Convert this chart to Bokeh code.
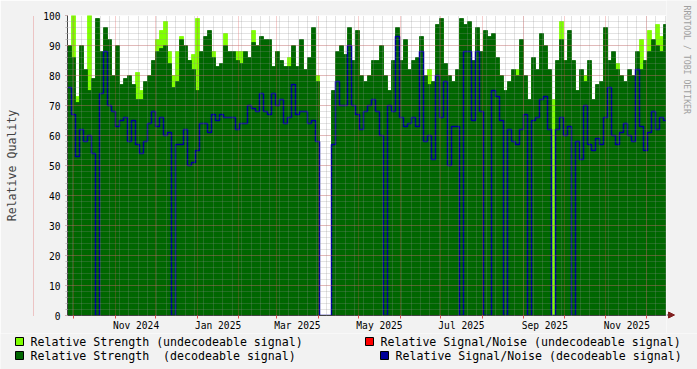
import math
from datetime import datetime, timedelta
import numpy as np
from bokeh.plotting import figure
from bokeh.layouts import column, row
from bokeh.models import (Range1d, FixedTicker, Grid, DatetimeTickFormatter,
                          ColumnDataSource, Arrow, NormalHead)
from bokeh.core.properties import value
from bokeh.embed import file_html
from bokeh.resources import INLINE

# ---------------- data (one value per ~3-day RRD step) ----------------
START = datetime(2024, 9, 26, 12)
END = datetime(2025, 12, 16, 0)
STEP_HOURS = 71.4

strength_dec = [
    90, 86, 71, 90, 82, 75, 79, 99, 88, 96,
    92, 80, 90, 77, 79, 80, 77, 72, 72, 78,
    80, 85, 88, 89, 90, 84, 76, 78, 92, 90,
    85, 82, 75, 88, 93, 95, 86, 83, 84, 90,
    88, 88, 85, 84, 88, 86, 91, 90, 93, 92,
    92, 83, 88, 85, 83, 83, 90, 83, 92, 82,
    86, 96, 78, None, None, None, 75, 88, 90, 87,
    96, 85, 95, 80, 78, 80, 85, 85, 90, 80,
    75, 85, 96, 85, 92, 82, 85, 86, 93, 80,
    77, 78, 97, 99, 84, 80, 78, 82, 99, 97,
    98, 85, 96, 88, 95, 93, 94, 86, 80, 75,
    78, 82, 80, 92, 80, 72, 86, 82, 94, 90,
    82, 0, 85, 92, 85, 95, 85, 75, 82, 78,
    85, 72, 77, 78, 96, 85, 88, 82, 80, 78,
    82, 80, 88, 82, 85, 88, 92, 90, 88, 97,
]
strength_undec = [
    88, 100, 73, 88, 80, 100, 77, 95, 85, 93,
    90, 78, 88, 75, 77, 78, 75, 81, 75, 76,
    78, 83, 92, 95, 98, 88, 80, 88, 93, 88,
    85, 87, 99, 86, 91, 93, 88, 81, 82, 94,
    86, 86, 88, 88, 86, 84, 95, 88, 91, 90,
    90, 81, 88, 83, 81, 86, 88, 81, 90, 80,
    84, 94, 80, None, None, None, 73, 86, 88, 85,
    94, 83, 88, 78, 76, 78, 83, 83, 88, 78,
    73, 83, 94, 83, 90, 80, 83, 84, 91, 78,
    82, 76, 95, 97, 82, 74, 76, 80, 97, 95,
    96, 83, 94, 86, 93, 91, 92, 84, 78, 73,
    76, 80, 82, 90, 78, 70, 84, 80, 92, 88,
    80, 72, 83, 98, 83, 88, 83, 72, 80, 80,
    83, 70, 75, 76, 94, 83, 86, 84, 77, 76,
    80, 78, 86, 92, 83, 95, 90, 97, 93, 95,
]
snr_dec = [
    76, 67, 53, 62, 58, 60, 54, 0, 74, 88,
    70, 68, 63, 65, 66, 58, 65, 57, 54, 58,
    64, 68, 63, 66, 60, 61, 0, 57, 57, 62,
    50, 51, 55, 64, 64, 61, 67, 65, 67, 66,
    66, 66, 62, 64, 64, 70, 69, 68, 74, 68,
    67, 74, 70, 72, 64, 66, 77, 67, 68, 68,
    64, 65, 58, 0, 0, 0, 57, 78, 70, 70,
    90, 70, 67, 62, 68, 70, 72, 68, 60, 0,
    70, 68, 93, 66, 63, 64, 66, 63, 88, 58,
    60, 52, 80, 66, 78, 50, 63, 63, 0, 88,
    88, 65, 88, 68, 0, 0, 75, 73, 65, 0,
    62, 58, 57, 62, 67, 0, 65, 66, 72, 73,
    62, 0, 62, 66, 60, 63, 0, 58, 52, 70,
    57, 55, 59, 57, 66, 76, 60, 57, 61, 64,
    60, 58, 82, 63, 55, 61, 68, 62, 66, 65,
]

x_tick_labels = ["Nov 2024", "Jan 2025", "Mar 2025", "May 2025",
                 "Jul 2025", "Sep 2025", "Nov 2025"]
legend_labels = ["Relative Strength (undecodeable signal)",
                 "Relative Strength \u00a0(decodeable signal)",
                 "Relative Signal/Noise (undecodeable signal)",
                 "Relative Signal/Noise (decodeable signal)"]
watermark = "RRDTOOL / TOBI OETIKER"

# ---------------- helpers ----------------
EPOCH = datetime(1970, 1, 1)


def ms(dt):
    return (dt - EPOCH).total_seconds() * 1000.0


def tofloat(a):
    return np.array([np.nan if v is None else float(v) for v in a])


def no_frame_align(fig):
    if "frame_align" in fig.properties():
        fig.frame_align = False


n = len(strength_dec)
step = timedelta(hours=STEP_HOURS)
t_left = np.array([ms(START + i * step) for i in range(n)])
t_right = np.array([ms(START + (i + 1) * step) for i in range(n)])

FONT = "DejaVu Sans Mono"
C_LIGHT = "#7FFF00"
C_DARK = "#006600"
C_RED = "#FF0000"
C_BLUE = "#000099"
BACK = "#F2F2F2"
ARROW = "#801F1F"

W_MAIN, H_MAIN = 666, 333
W_SIDE = 31
H_LEG = 36

p = figure(width=W_MAIN, height=H_MAIN, output_backend="svg", toolbar_location=None,
           x_axis_type="datetime",
           x_range=Range1d(ms(START), ms(END)), y_range=Range1d(0, 100),
           min_border_left=67, min_border_right=0, min_border_top=15,
           min_border_bottom=18)
no_frame_align(p)
p.background_fill_color = "white"
p.border_fill_color = BACK
p.outline_line_color = None
p.grid.visible = False

src_u = ColumnDataSource(dict(l=t_left, r=t_right, t=tofloat(strength_undec)))
src_d = ColumnDataSource(dict(l=t_left, r=t_right, t=tofloat(strength_dec)))
p.quad(left="l", right="r", bottom=0, top="t", source=src_u,
       fill_color=C_LIGHT, line_color=C_LIGHT, line_width=0.8)
p.quad(left="l", right="r", bottom=0, top="t", source=src_d,
       fill_color=C_DARK, line_color=C_DARK, line_width=0.8)

sx = list(t_left) + [t_right[-1]]
sy = list(snr_dec) + [snr_dec[-1]]
p.step(x=sx, y=sy, mode="after", line_color=C_BLUE, line_width=1.5)

# ---------------- grids ----------------
month_starts = []
y, m = 2024, 9
while True:
    d = datetime(y, m, 1)
    if d > END:
        break
    month_starts.append(ms(d))
    m += 1
    if m > 12:
        m, y = 1, y + 1
weeks = []
d = datetime(2024, 9, 30)
while d < END:
    weeks.append(ms(d))
    d += timedelta(days=7)

label_pos = []
for lab in x_tick_labels:
    dt = datetime.strptime(lab, "%b %Y")
    label_pos.append(ms(datetime(dt.year, dt.month, 16, 12)))

MGRID = "#DE4F4F"
GRID = "#8F8F8F"
xg = Grid(dimension=0, ticker=FixedTicker(ticks=month_starts, minor_ticks=weeks),
          grid_line_color=MGRID, grid_line_alpha=0.55, grid_line_dash="1 1",
          minor_grid_line_color=GRID, minor_grid_line_alpha=0.5,
          minor_grid_line_dash="1 1", level="guide")
yg = Grid(dimension=1, ticker=FixedTicker(ticks=list(range(0, 101, 10)),
                                          minor_ticks=list(range(0, 101, 2))),
          grid_line_color=MGRID, grid_line_alpha=0.55, grid_line_dash="1 1",
          minor_grid_line_color=GRID, minor_grid_line_alpha=0.5,
          minor_grid_line_dash="1 1", level="guide")
p.add_layout(xg)
p.add_layout(yg)

# ---------------- axes ----------------
xa = p.xaxis[0]
xa.ticker = FixedTicker(ticks=label_pos, minor_ticks=month_starts)
xa.formatter = DatetimeTickFormatter(years="%b %Y", months="%b %Y", days="%b %Y",
                                     hours="%b %Y", minutes="%b %Y")
xa.major_tick_line_color = None
xa.major_tick_out = 0
xa.major_tick_in = 0
xa.minor_tick_line_color = MGRID
xa.minor_tick_out = 3
xa.minor_tick_in = 0
xa.major_label_standoff = 1
xa.major_label_text_font = FONT
xa.major_label_text_font_size = "9.6px"
xa.major_label_text_color = "black"
xa.axis_line_color = "#444444"

ya = p.yaxis[0]
ya.ticker = FixedTicker(ticks=list(range(0, 101, 10)), minor_ticks=list(range(0, 101, 2)))
ya.major_tick_line_color = MGRID
ya.major_tick_out = 2
ya.major_tick_in = 0
ya.minor_tick_line_color = "#bbbbbb"
ya.minor_tick_out = 2
ya.minor_tick_in = 0
ya.major_label_standoff = 5
ya.major_label_text_font = FONT
ya.major_label_text_font_size = "9.6px"
ya.major_label_text_color = "black"
ya.axis_line_color = "#444444"
ya.axis_label = "Relative Quality"
ya.axis_label_text_font = FONT
ya.axis_label_text_font_size = "11.6px"
ya.axis_label_text_font_style = "normal"
ya.axis_label_standoff = 21

# ---------------- right strip: watermark + x-axis arrow ----------------
r = figure(width=W_SIDE, height=H_MAIN, output_backend="svg", toolbar_location=None,
           x_range=Range1d(0, W_SIDE), y_range=Range1d(0, H_MAIN),
           x_axis_location=None, y_axis_location=None, min_border=0)
no_frame_align(r)
r.background_fill_color = BACK
r.border_fill_color = BACK
r.outline_line_color = None
r.grid.visible = False
r.text(x=[20], y=[H_MAIN - 5], text=[watermark], angle=-math.pi / 2,
       text_align="left", text_baseline="middle", text_font=value(FONT),
       text_font_size="8.2px", text_color="#A0A0A0")
axis_y_px = H_MAIN - 315 + 0.5
r.add_layout(Arrow(end=NormalHead(size=6, fill_color=ARROW, line_color=ARROW),
                   x_start=0, y_start=axis_y_px, x_end=8, y_end=axis_y_px,
                   line_color="#444444", line_width=1))

# ---------------- legend strip (pixel layout) ----------------
QW = W_MAIN + W_SIDE
q = figure(width=QW, height=H_LEG, output_backend="svg", toolbar_location=None,
           x_range=Range1d(0, QW), y_range=Range1d(0, H_LEG),
           x_axis_location=None, y_axis_location=None, min_border=0)
no_frame_align(q)
q.background_fill_color = BACK
q.border_fill_color = BACK
q.outline_line_color = None
q.grid.visible = False

colors = [C_LIGHT, C_DARK, C_RED, C_BLUE]
sw_x = [15, 15, 365, 380]          # swatch left edge (px)
row_y = [28, 14, 28, 14]           # row centre (px from strip bottom)
leg = ColumnDataSource(dict(
    l=[x for x in sw_x], r=[x + 8 for x in sw_x],
    b=[yy - 4 for yy in row_y], t=[yy + 4 for yy in row_y],
    c=colors, tx=[x + 15 for x in sw_x], ty=row_y, lab=legend_labels))
q.quad(left="l", right="r", bottom="b", top="t", fill_color="c",
       line_color="black", line_width=1, source=leg)
q.text(x="tx", y="ty", text="lab", text_align="left", text_baseline="middle",
       text_font=value(FONT), text_font_size="11.6px", text_color="black",
       source=leg)

layout = column(row(p, r, spacing=0), q, spacing=0)
open("out.html", "w").write(file_html(layout, INLINE))
